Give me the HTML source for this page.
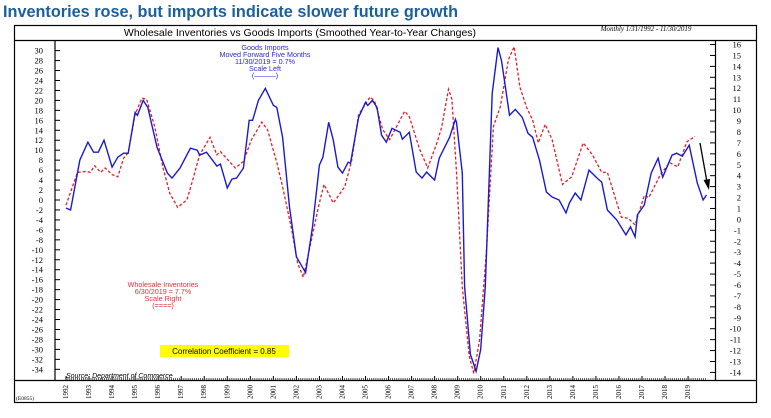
<!DOCTYPE html>
<html><head><meta charset="utf-8"><style>
html,body{margin:0;padding:0;background:#fff;width:771px;height:418px;overflow:hidden}
</style></head><body>
<svg id="chart" width="771" height="418" xmlns="http://www.w3.org/2000/svg" font-family="Liberation Sans, sans-serif">
<text x="3" y="17" font-size="17" font-weight="bold" fill="#1a5f9e" textLength="455" lengthAdjust="spacingAndGlyphs">Inventories rose, but imports indicate slower future growth</text>
<rect x="14.5" y="25.5" width="742" height="377" fill="none" stroke="#000" stroke-width="1.2"/>
<line x1="14" y1="40.5" x2="757" y2="40.5" stroke="#000" stroke-width="1.2"/>
<text x="300" y="36" font-size="10.5" text-anchor="middle" fill="#000">Wholesale Inventories vs Goods Imports (Smoothed Year-to-Year Changes)</text>
<text x="646" y="31" font-size="7" font-style="italic" font-family="Liberation Serif, serif" text-anchor="middle">Monthly 1/31/1992 - 11/30/2019</text>
<line x1="55" y1="40" x2="55" y2="380" stroke="#000" stroke-width="1.2"/>
<line x1="715.5" y1="40" x2="715.5" y2="380" stroke="#000" stroke-width="1.2"/>
<line x1="14" y1="380.5" x2="757" y2="380.5" stroke="#000" stroke-width="1.2"/>
<g id="axes"></g>
<g id="series"></g>
<g font-size="7.2" fill="#2a2ad0" text-anchor="middle">
<text x="265" y="50">Goods Imports</text>
<text x="265" y="57">Moved Forward Five Months</text>
<text x="265" y="64">11/30/2019 = 0.7%</text>
<text x="265" y="71">Scale Left</text>
<text x="265" y="78">(———)</text>
</g>
<g font-size="7.2" fill="#e0303a" text-anchor="middle">
<text x="163" y="287">Wholesale Inventories</text>
<text x="163" y="294">6/30/2019 = 7.7%</text>
<text x="163" y="301">Scale Right</text>
<text x="163" y="308">(====)</text>
</g>
<rect x="160" y="345" width="129" height="12" fill="#ffff00"/>
<text x="224" y="354" font-size="8" text-anchor="middle">Correlation Coefficient = 0.85</text>
<text x="66" y="378" font-size="7" font-style="italic">Source: Department of Commerce</text>
<text x="16" y="400" font-size="5.5" font-family="Liberation Serif, serif">(E0855)</text>
<g>
<line x1="700" y1="143" x2="707" y2="182" stroke="#000" stroke-width="1.3"/>
<polygon points="709,190 703.5,180 710,179" fill="#000"/>
</g>
</svg>
<script>
const leftTicks=[30,28,26,24,22,20,18,16,14,12,10,8,6,4,2,0,-2,-4,-6,-8,-10,-12,-14,-16,-18,-20,-22,-24,-26,-28,-30,-32,-34];
const rightTicks=[16,15,14,13,12,11,10,9,8,7,6,5,4,3,2,1,0,-1,-2,-3,-4,-5,-6,-7,-8,-9,-10,-11,-12,-13,-14];
const years=[1992,1993,1994,1995,1996,1997,1998,1999,2000,2001,2002,2003,2004,2005,2006,2007,2008,2009,2010,2011,2012,2013,2014,2015,2016,2017,2018,2019];
const importsT=[1992.0,1992.2,1992.6,1992.95,1993.2,1993.4,1993.65,1994.0,1994.25,1994.5,1994.7,1995.0,1995.1,1995.35,1995.55,1995.95,1996.4,1996.6,1996.95,1997.4,1997.7,1997.8,1998.1,1998.55,1998.7,1999.0,1999.2,1999.4,1999.7,1999.95,2000.1,2000.35,2000.65,2001.0,2001.15,2001.4,2001.7,2002.0,2002.4,2002.7,2003.0,2003.15,2003.4,2003.6,2003.8,2004.0,2004.25,2004.35,2004.7,2005.0,2005.1,2005.3,2005.5,2005.7,2005.9,2006.15,2006.5,2006.6,2006.9,2007.2,2007.45,2007.65,2008.0,2008.2,2008.65,2008.9,2008.95,2009.2,2009.3,2009.55,2009.8,2010.0,2010.2,2010.5,2010.75,2010.9,2011.05,2011.25,2011.5,2011.8,2012.05,2012.25,2012.55,2012.85,2013.1,2013.4,2013.7,2013.85,2014.1,2014.35,2014.7,2015.05,2015.25,2015.5,2015.9,2016.3,2016.5,2016.7,2016.8,2017.1,2017.4,2017.7,2017.9,2018.3,2018.5,2018.75,2019.05,2019.4,2019.65,2019.8];
const importsV=[-1.6,-2,8,11.6,9.6,9.6,12,6.6,8.6,9.4,9.4,17.6,17,20,18.6,10.6,5.4,4.4,6.4,10.4,10,9,9.6,6.8,7.2,2.4,4.2,4.4,6.4,16,16,20,22.4,19,18.6,12.6,-1.4,-11.4,-14.6,-5.4,7,8.6,15.6,12,6.6,5.4,7.6,7.4,16.6,19.6,19,20,18.6,13,11.6,14.4,13.6,12.2,13.6,5.6,4.4,5.6,4,8.4,12.6,16.2,15.6,5.4,-17.4,-31,-34.4,-30,-17.4,21.4,30.6,28,23.4,17,18.2,16.6,13.4,12.6,8,1.6,0.6,0,-2.6,-0.6,1.4,0,6,4.4,3.6,-2,-4,-7,-5.4,-7.4,-3,-1,5.4,8.4,4.6,9,9.4,8.8,11,3.4,0,1];
const invT=[1992.0,1992.5,1992.9,1993.05,1993.25,1993.5,1993.7,1994.0,1994.25,1994.5,1994.7,1995.0,1995.3,1995.5,1995.85,1996.2,1996.5,1996.85,1997.25,1997.5,1997.8,1998.25,1998.55,1998.7,1999.35,1999.7,2000.05,2000.5,2000.75,2001.15,2001.4,2001.8,2002.05,2002.3,2002.65,2002.95,2003.2,2003.6,2003.9,2004.1,2004.4,2004.7,2005.2,2005.4,2005.75,2006.05,2006.7,2006.9,2007.35,2007.7,2008.1,2008.3,2008.6,2008.75,2008.95,2009.2,2009.5,2009.7,2009.95,2010.25,2010.55,2010.85,2011.2,2011.45,2011.7,2012.0,2012.25,2012.5,2012.8,2013.1,2013.55,2013.95,2014.45,2014.85,2015.25,2015.5,2016.1,2016.4,2016.7,2017.1,2017.3,2017.8,2018.2,2018.55,2018.95,2019.3];
const invV=[1.3,4.3,4.4,4.3,4.9,4.3,4.7,4.1,3.9,5.6,6.1,9.6,11.1,11.0,8.5,4.8,2.4,1.1,1.8,3.6,5.9,7.5,5.9,6.2,4.7,5.3,7.3,8.9,8.2,5.2,3.0,-1.0,-4.0,-5.3,-1.9,1.1,3.2,1.5,2.4,3.0,5.4,9.6,11.2,10.8,8.2,7.3,9.9,9.4,6.4,4.7,7.0,8.4,11.9,11.0,4.3,-6.2,-12.5,-14.1,-11,-2.8,8.5,10.3,14.6,15.8,12.1,10.2,9.1,7.0,8.7,7.3,3.2,3.9,7.0,5.9,4.3,4.3,0.2,0.1,-0.5,2.2,2.0,4.1,5.2,4.8,7.1,7.6];

const NS='http://www.w3.org/2000/svg';
const xS=t=>66+(t-1992)*23.04;
const yL=v=>200-v*4.98;
const yR=v=>219.4-v*10.93;
const axes=document.getElementById('axes'), series=document.getElementById('series');
function mk(tag,attrs,parent){const e=document.createElementNS(NS,tag);for(const k in attrs)e.setAttribute(k,attrs[k]);parent.appendChild(e);return e;}
leftTicks.forEach(v=>{
  const y=yL(v);
  const l=mk('line',{x1:55,x2:60,y1:y,y2:y,stroke:'#000','stroke-width':1},axes);
  
  
  const t=mk('text',{x:43,y:y+3,'font-size':8.5,'text-anchor':'end','font-family':'Liberation Serif, serif'},axes);
  t.textContent=v;
  
  
});
rightTicks.forEach(v=>{
  const y=yR(v);
  const l=mk('line',{x1:710,x2:715,y1:y,y2:y,stroke:'#000','stroke-width':1},axes);
  
  
  const t=mk('text',{x:741,y:y+3,'font-size':8.5,'text-anchor':'end','font-family':'Liberation Serif, serif'},axes);
  t.textContent=v;
  
  
});
years.forEach(yr=>{
  const x=xS(yr);
  const l=mk('line',{x1:x,x2:x,y1:380,y2:376,stroke:'#000','stroke-width':1},axes);
  
  
  for(let m=1;m<12;m++){
    const xm=x+m*23.04/12;
    if(xm>707)break;
    const ml=mk('line',{x1:xm,x2:xm,y1:380,y2:378,stroke:'#000','stroke-width':0.6},axes);
    
    
  }
  const t=mk('text',{x:0,y:0,'font-size':7,'text-anchor':'middle','font-family':'Liberation Serif, serif',transform:`translate(${x+2},392) rotate(-90)`},axes);
  t.textContent=yr;
  
  
});
function path(ts,vs,ys){return ts.map((t,i)=>(i?'L':'M')+xS(t).toFixed(1)+','+ys(vs[i]).toFixed(1)).join(' ');}
const red=mk('path',{d:path(invT,invV,yR),fill:'none',stroke:'#e0202a','stroke-width':1.3,'stroke-dasharray':'3,2'},series);


const blue=mk('path',{d:path(importsT,importsV,yL),fill:'none',stroke:'#1a1ad0','stroke-width':1.4},series);


</script>
</body></html>
